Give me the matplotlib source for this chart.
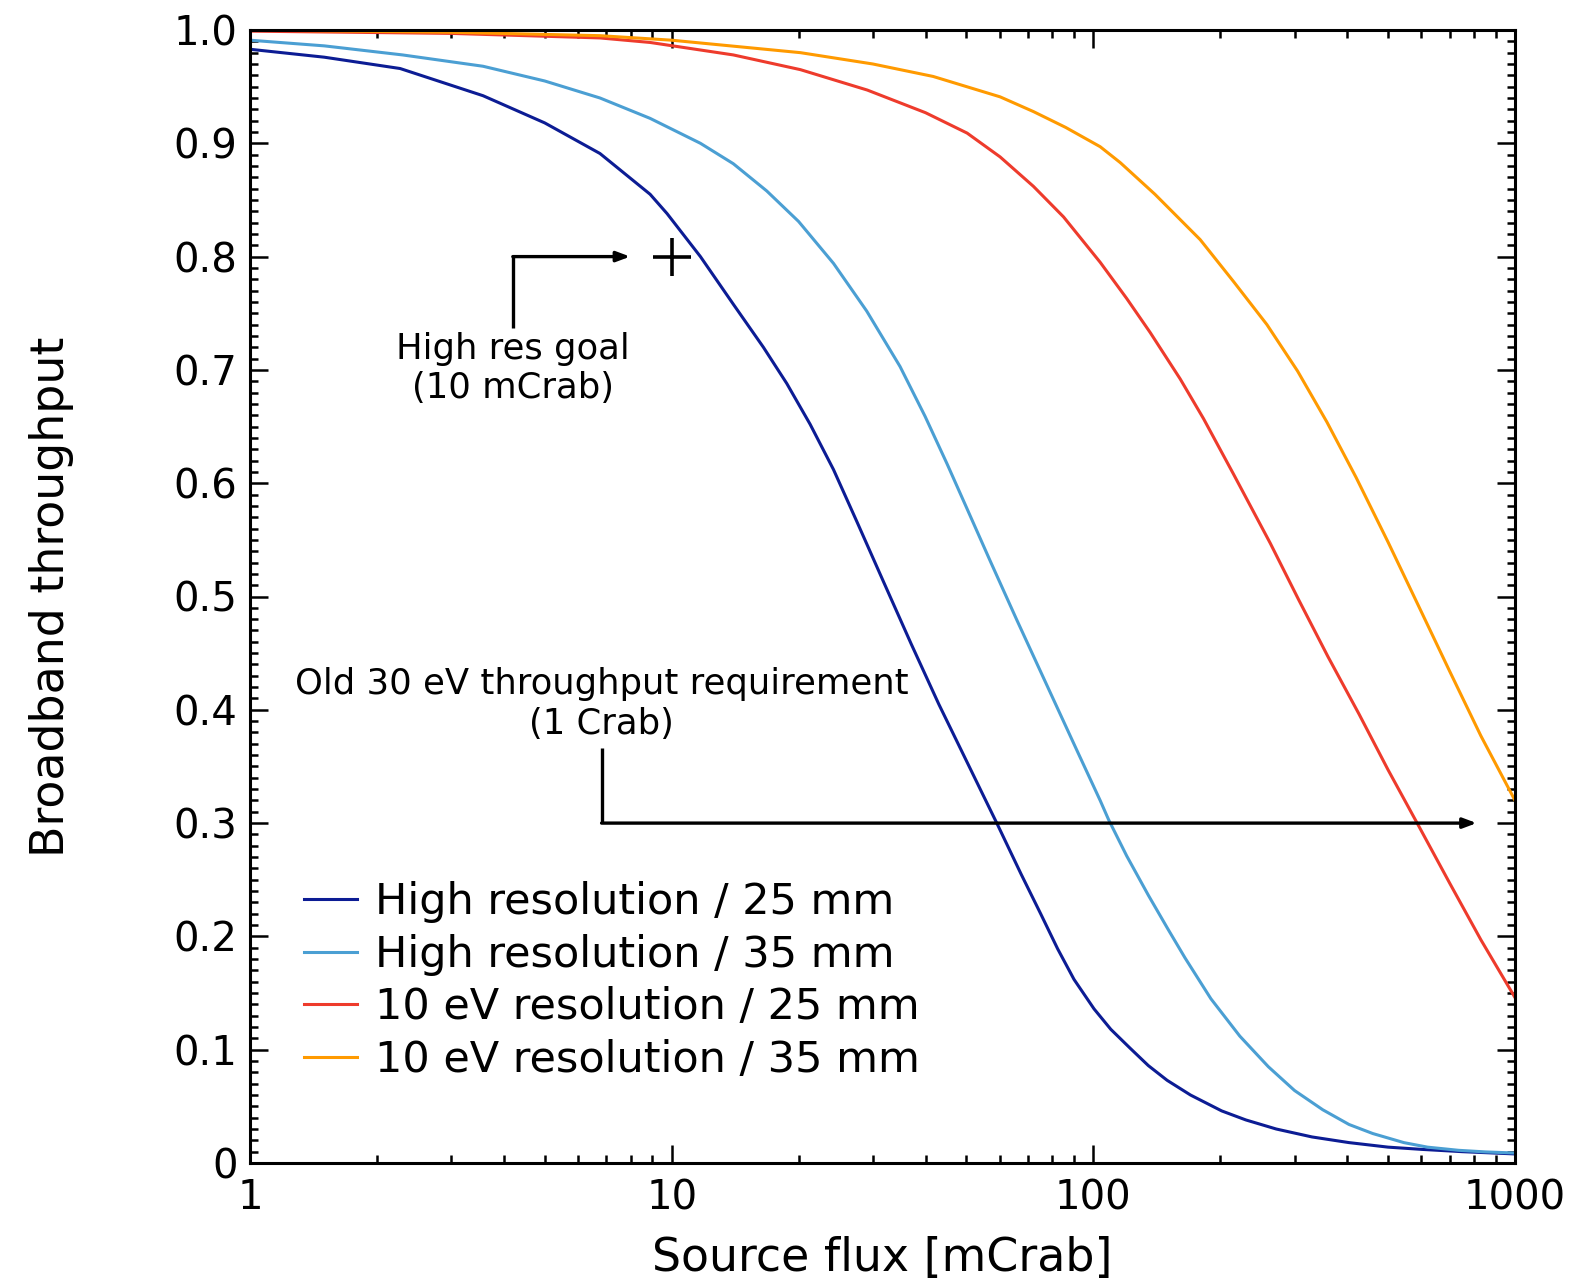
import matplotlib
matplotlib.use("Agg")
import matplotlib.pyplot as plt
from matplotlib.ticker import FixedLocator, MultipleLocator, NullFormatter

plt.rcParams['font.family'] = ['DejaVu Sans']

# ---- data ----
hr25_x = [1, 1.5, 2.27, 3.57, 5.0, 6.76, 8.89, 9.75, 11.7, 14.0, 16.5, 18.75, 21.3, 24.2, 27.5,
          31.8, 37, 43, 50, 55.9, 59.2, 67.4, 75, 82.3, 90, 100.4, 110, 122.5, 135, 149.6, 170,
          201.5, 230, 271.5, 330, 404, 500, 602, 750, 1000]
hr25_y = [0.983, 0.976, 0.966, 0.942, 0.918, 0.891, 0.855, 0.838, 0.800, 0.758, 0.720, 0.688,
          0.652, 0.612, 0.566, 0.513, 0.458, 0.405, 0.355, 0.318, 0.299, 0.255, 0.220, 0.189,
          0.162, 0.136, 0.118, 0.101, 0.086, 0.073, 0.060, 0.046, 0.038, 0.030, 0.023, 0.018,
          0.014, 0.012, 0.010, 0.008]

hr35_x = [1, 1.5, 2.3, 3.57, 5.0, 6.76, 8.89, 11.7, 14.0, 16.8, 20, 24.2, 29, 34.8, 39.9, 45,
          50.1, 57, 65.9, 80, 92, 103.8, 108.7, 120, 135.2, 150, 165, 190, 222.5, 260, 300, 350,
          404, 460, 545, 620, 735, 850, 1000]
hr35_y = [0.991, 0.986, 0.978, 0.968, 0.955, 0.940, 0.922, 0.900, 0.882, 0.858, 0.831, 0.794,
          0.752, 0.703, 0.659, 0.617, 0.578, 0.531, 0.479, 0.411, 0.362, 0.320, 0.303, 0.271,
          0.236, 0.207, 0.181, 0.145, 0.112, 0.085, 0.064, 0.047, 0.034, 0.026, 0.018,
          0.0140, 0.0112, 0.0098, 0.0088]

ev25_x = [1, 3, 6.76, 8.89, 14.0, 20.2, 29.1, 40, 50.2, 60.1, 72.1, 85, 103.8, 120, 136.4,
          160.7, 182.5, 215, 262.8, 307, 360, 427, 500, 590, 700, 830, 1000]
ev25_y = [0.999, 0.997, 0.993, 0.989, 0.978, 0.965, 0.947, 0.927, 0.909, 0.888, 0.862, 0.835,
          0.795, 0.763, 0.733, 0.692, 0.657, 0.608, 0.547, 0.497, 0.447, 0.396, 0.347, 0.298,
          0.247, 0.197, 0.146]

ev35_x = [1, 3, 6.76, 10, 20.2, 30, 41.7, 60.1, 72.1, 86, 103.8, 115.8, 140, 179.2, 215, 258,
          305, 358, 420, 500, 590, 700, 830, 1000]
ev35_y = [1.0, 0.998, 0.995, 0.991, 0.980, 0.970, 0.959, 0.941, 0.928, 0.914, 0.897, 0.883,
          0.855, 0.815, 0.778, 0.740, 0.699, 0.654, 0.605, 0.548, 0.492, 0.434, 0.377, 0.320]

labels = ["High resolution / 25 mm", "High resolution / 35 mm",
          "10 eV resolution / 25 mm", "10 eV resolution / 35 mm"]
colors = ["#0c1c94", "#4b9fd3", "#ee3b2c", "#ff9a00"]

x_ticks = [1, 10, 100, 1000]
x_ticklabels = ["1", "10", "100", "1000"]
y_ticks = [0, 0.1, 0.2, 0.3, 0.4, 0.5, 0.6, 0.7, 0.8, 0.9, 1.0]
y_ticklabels = ["0", "0.1", "0.2", "0.3", "0.4", "0.5", "0.6", "0.7", "0.8", "0.9", "1.0"]

goal_x, goal_y = 10, 0.8

fig = plt.figure(figsize=(15.75, 12.81), dpi=100)
ax = fig.add_axes([250/1575, 1 - 1163/1281, 1265/1575, 1133/1281])

series = [(hr25_x, hr25_y), (hr35_x, hr35_y), (ev25_x, ev25_y), (ev35_x, ev35_y)]
for (xs, ys), lab, c in zip(series, labels, colors):
    ax.plot(xs, ys, color=c, lw=2.2, label=lab, solid_joinstyle='round')

ax.set_xscale('log')
ax.set_xlim(1, 1000)
ax.set_ylim(0, 1.0)

ax.xaxis.set_major_locator(FixedLocator(x_ticks))
ax.set_xticklabels(x_ticklabels)
ax.xaxis.set_minor_locator(FixedLocator([m * d for d in (1, 10, 100) for m in range(2, 10)]))
ax.xaxis.set_minor_formatter(NullFormatter())
ax.set_yticks(y_ticks)
ax.set_yticklabels(y_ticklabels)
ax.yaxis.set_minor_locator(MultipleLocator(0.01))

ax.tick_params(which='both', direction='in', top=True, right=True, width=1.8, labelsize=29)
ax.tick_params(which='major', length=13)
ax.tick_params(which='minor', length=6)
ax.tick_params(axis='x', pad=11)
ax.tick_params(axis='y', pad=9)
for s in ax.spines.values():
    s.set_linewidth(2.2)

ax.set_xlabel("Source flux [mCrab]", fontsize=33, labelpad=13)
ax.set_ylabel("Broadband throughput", fontsize=33, labelpad=72)

# goal marker
ax.plot([goal_x], [goal_y], marker='+', ms=28, mew=2.6, color='black', linestyle='none')

# high res goal annotation
ax.plot([4.2, 4.2], [0.737, 0.8], color='black', lw=2.4, solid_capstyle='butt')
ax.annotate('', xy=(7.97, 0.8), xytext=(4.2, 0.8),
            arrowprops=dict(arrowstyle='-|>,head_length=0.8,head_width=0.3', lw=2.4,
                            color='black', shrinkA=0, shrinkB=0))
ax.text(4.2, 0.701, "High res goal\n(10 mCrab)", ha='center', va='center', fontsize=25.5,
        linespacing=1.2)

# old requirement annotation
ax.plot([6.82, 6.82], [0.366, 0.3], color='black', lw=2.4, solid_capstyle='butt')
ax.annotate('', xy=(811, 0.3), xytext=(6.82, 0.3),
            arrowprops=dict(arrowstyle='-|>,head_length=0.8,head_width=0.3', lw=2.4,
                            color='black', shrinkA=0, shrinkB=0))
ax.text(6.82, 0.405, "Old 30 eV throughput requirement\n(1 Crab)", ha='center', va='center',
        fontsize=25.5, linespacing=1.2)

leg = ax.legend(loc='upper left', bbox_to_anchor=(0.043, 0.249), frameon=False, fontsize=31,
                handlelength=1.23, handletextpad=0.42, labelspacing=0.25, borderpad=0,
                borderaxespad=0)

fig.savefig("out.png", dpi=100)
